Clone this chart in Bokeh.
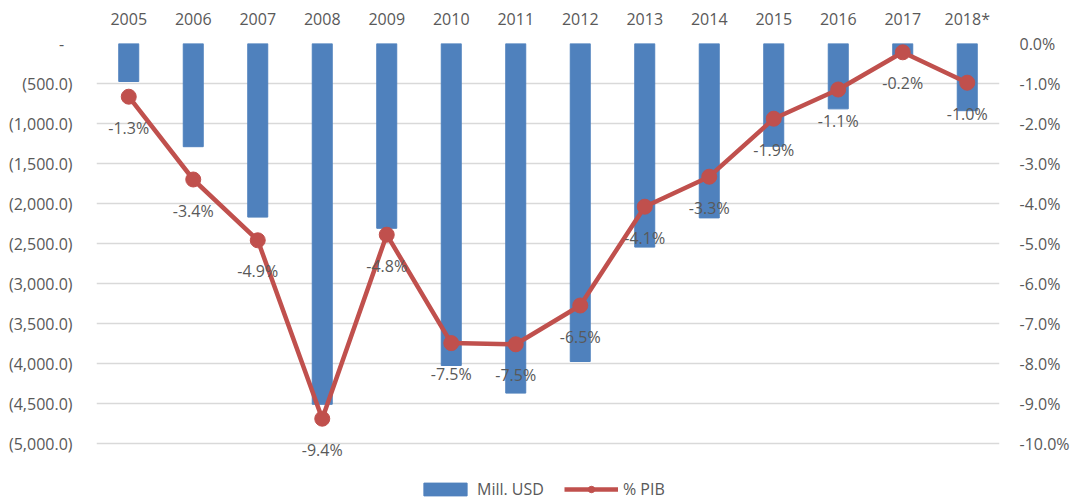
from bokeh.plotting import figure
from bokeh.models import (ColumnDataSource, Range1d, LinearAxis, FixedTicker,
                          CustomJSTickFormatter, PrintfTickFormatter, Legend, LegendItem, FactorRange)
from bokeh.core.properties import value
from bokeh.embed import file_html
from bokeh.resources import INLINE

years = ["2005", "2006", "2007", "2008", "2009", "2010", "2011", "2012",
         "2013", "2014", "2015", "2016", "2017", "2018*"]
mill_usd = [-475, -1290, -2170, -4510, -2310, -4025, -4370, -3975,
            -2545, -2180, -1285, -817, -150, -840]
pct_pib = [-1.33, -3.40, -4.92, -9.38, -4.78, -7.49, -7.52, -6.55,
           -4.08, -3.33, -1.88, -1.15, -0.22, -0.98]
left_ticks = [0, -500, -1000, -1500, -2000, -2500, -3000, -3500, -4000, -4500, -5000]
right_ticks = [0, -1, -2, -3, -4, -5, -6, -7, -8, -9, -10]

FONT = "Open Sans"
TXT = "#595959"
BLUE = "#4f81bd"
RED = "#c0504d"

labels = ["%.1f%%" % v for v in pct_pib]
src = ColumnDataSource(dict(x=years, bar=mill_usd, pct=pct_pib, lab=labels))

# the plot frame reaches the bottom of the page so the legend can sit below
# the last grid line; both ranges are extended by the same share (57 of 400 px)
EXT = 457.0 / 400.0
p = figure(width=1072, height=500, x_range=FactorRange(*years, range_padding=0),
           y_range=Range1d(-5000 * EXT, 0), x_axis_location="above",
           output_backend="svg", toolbar_location=None,
           min_border_left=96, min_border_right=72, min_border_top=43, min_border_bottom=0)
p.extra_y_ranges = {"pct": Range1d(-10 * EXT, 0)}
p.outline_line_color = None
p.background_fill_color = "white"

# axes
xa = p.xaxis[0]
xa.axis_line_color = None
xa.major_tick_line_color = None
xa.minor_tick_line_color = None
xa.major_label_text_font = FONT
xa.major_label_text_font_size = "16px"
xa.major_label_text_color = TXT
xa.major_label_standoff = 8

ya = p.yaxis[0]
ya.ticker = FixedTicker(ticks=left_ticks)
ya.formatter = CustomJSTickFormatter(code="""
if (tick == 0) return "-\u00a0\u00a0";
const a = Math.abs(tick);
const s = a.toLocaleString('en-US', {minimumFractionDigits: 1, maximumFractionDigits: 1});
return tick < 0 ? "(" + s + ")" : s;
""")
ya.axis_line_color = None
ya.major_tick_line_color = None
ya.minor_tick_line_color = None
ya.major_label_text_font = FONT
ya.major_label_text_font_size = "16px"
ya.major_label_text_color = TXT
ya.major_label_standoff = 18

ra = LinearAxis(y_range_name="pct", ticker=FixedTicker(ticks=right_ticks),
                formatter=PrintfTickFormatter(format="%.1f%%"))
ra.axis_line_color = None
ra.major_tick_line_color = None
ra.minor_tick_line_color = None
ra.major_label_text_font = FONT
ra.major_label_text_font_size = "16px"
ra.major_label_text_color = TXT
ra.major_label_standoff = 14
p.add_layout(ra, "right")

p.xgrid.grid_line_color = None
p.ygrid.ticker = FixedTicker(ticks=left_ticks)
p.ygrid.grid_line_color = "#d9d9d9"
p.ygrid.grid_line_width = 1.5

bars = p.vbar(x="x", top="bar", bottom=0, width=0.31, source=src,
              fill_color=BLUE, line_color=BLUE)
ln = p.line(x="x", y="pct", source=src, y_range_name="pct",
            line_color=RED, line_width=4.5)
mk = p.scatter(x="x", y="pct", source=src, y_range_name="pct", size=15,
               fill_color=RED, line_color=RED)
p.text(x="x", y="pct", text="lab", source=src, y_range_name="pct",
       text_font=value(FONT), text_font_size="16px", text_color=TXT,
       text_align="center", text_baseline="middle", y_offset=31)

legend = Legend(items=[LegendItem(label="Mill. USD", renderers=[bars]),
                       LegendItem(label="% PIB", renderers=[ln, mk])],
                orientation="horizontal", location=(322, 0),
                glyph_width=54, glyph_height=16, label_standoff=5, spacing=20,
                padding=0, margin=0, border_line_color=None,
                background_fill_alpha=0,
                label_text_font=FONT, label_text_font_size="16px",
                label_text_color=TXT)
p.add_layout(legend, "center")

open("out.html", "w").write(file_html(p, INLINE))
